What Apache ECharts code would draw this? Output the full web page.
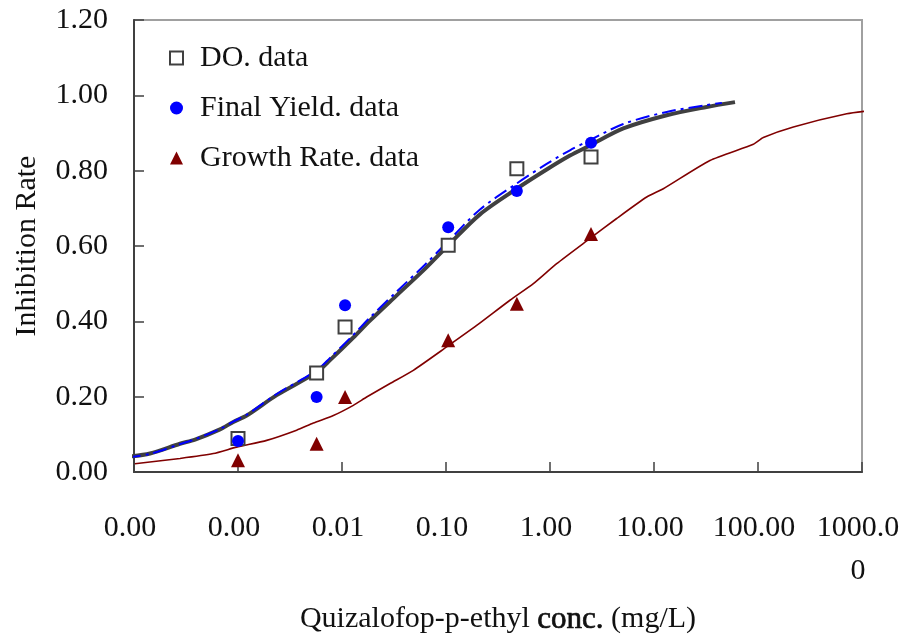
<!DOCTYPE html>
<html>
<head>
<meta charset="utf-8">
<script src="https://cdn.jsdelivr.net/npm/echarts@6/dist/echarts.min.js"></script>
<style>html,body{margin:0;padding:0;background:#fff;}#c{width:912px;height:641px;}</style>
</head>
<body>
<div id="c"></div>
<script>
// ---- data ----
var xTickValues = [0.0001, 0.001, 0.01, 0.1, 1, 10, 100, 1000];
var xTickLabels = ['0.00', '0.00', '0.01', '0.10', '1.00', '10.00', '100.00', '1000.0\n0'];
var yTickLabels = ['0.00', '0.20', '0.40', '0.60', '0.80', '1.00', '1.20'];

var dataConc = [0.001, 0.0057, 0.0107, 0.105, 0.48, 2.48];
var doData = [0.089, 0.263, 0.385, 0.602, 0.805, 0.836];
var fyData = [0.082, 0.199, 0.443, 0.650, 0.746, 0.874];
var grData = [0.031, 0.075, 0.199, 0.350, 0.447, 0.632];

var doFitX = [8.51e-5, 1.426e-4, 2.767e-4, 3.864e-4, 6.714e-4, 9.02e-4, 1.213e-3, 2.355e-3, 5.715e-3, 7.674e-3, 0.01285, 0.01858, 0.03357, 0.0631, 0.1052, 0.2123, 0.4786, 0.929, 1.556, 2.427, 5.07, 13.24, 32.06, 60.1];
var doFitY = [0.040, 0.049, 0.075, 0.086, 0.113, 0.133, 0.150, 0.204, 0.265, 0.297, 0.357, 0.402, 0.469, 0.540, 0.602, 0.684, 0.752, 0.803, 0.840, 0.867, 0.912, 0.947, 0.969, 0.982];

var fyFitX = [8.51e-5, 1.426e-4, 2.767e-4, 3.864e-4, 6.714e-4, 9.02e-4, 1.213e-3, 2.355e-3, 5.715e-3, 7.674e-3, 0.01285, 0.01858, 0.03357, 0.0631, 0.1052, 0.2123, 0.4786, 0.929, 1.556, 2.427, 5.07, 13.24, 32.06, 45.0];
var fyFitY = [0.038, 0.048, 0.074, 0.087, 0.114, 0.134, 0.152, 0.207, 0.270, 0.303, 0.364, 0.410, 0.479, 0.551, 0.613, 0.697, 0.766, 0.818, 0.854, 0.881, 0.924, 0.956, 0.974, 0.980];

var grFitX = [1.02e-4, 2.77e-4, 5.79e-4, 9.7e-4, 1.888e-3, 3.664e-3, 5.30e-3, 8.26e-3, 0.01285, 0.01726, 0.02897, 0.04853, 0.1014, 0.1972, 0.412, 0.692, 1.159, 2.427, 4.375, 8.51, 12.3, 34.5, 90.2, 112.5, 218.8, 712.9, 1268];
var grFitY = [0.022, 0.036, 0.049, 0.066, 0.084, 0.111, 0.130, 0.150, 0.177, 0.199, 0.235, 0.270, 0.332, 0.389, 0.456, 0.500, 0.553, 0.620, 0.673, 0.730, 0.752, 0.827, 0.870, 0.888, 0.916, 0.951, 0.960];

function pairs(xs, ys) { return xs.map(function (x, i) { return [x, ys[i]]; }); }

var FONT = "'Liberation Serif', 'Times New Roman', serif";
var TXT = '#111';

var chart = echarts.init(document.getElementById('c'), null, { renderer: 'canvas' });
chart.setOption({
  animation: false,
  backgroundColor: '#fff',
  grid: { left: 134, top: 20, width: 728, height: 452, show: true, borderColor: '#a0a0a0', borderWidth: 2, backgroundColor: 'transparent' },
  legend: {
    orient: 'vertical', left: 169, top: 37, padding: 0,
    itemWidth: 13, itemHeight: 13, itemGap: 8,
    data: ['DO. data', 'Final Yield. data', 'Growth Rate. data'],
    textStyle: { fontFamily: FONT, fontSize: 30, color: TXT, lineHeight: 30, padding: [12, 0, 0, 12] }
  },
  xAxis: {
    type: 'log', logBase: 10, min: 0.0001, max: 1000, splitNumber: 7,
    name: '{a|Quizalofop-p-ethyl }{b|conc.}{a| (mg/L)}',
    nameLocation: 'middle', nameGap: 132,
    nameTextStyle: {
      rich: {
        a: { fontFamily: FONT, fontSize: 30, color: TXT },
        b: { fontFamily: FONT, fontSize: 31, color: TXT, textBorderColor: TXT, textBorderWidth: 0.7 }
      }
    },
    axisLine: { show: true, lineStyle: { color: '#404040', width: 2 } },
    axisTick: { show: true, inside: true, length: 10, lineStyle: { color: '#404040', width: 1.5 } },
    splitLine: { show: false },
    minorTick: { show: false },
    axisLabel: {
      interval: 0, margin: 35, fontFamily: FONT, fontSize: 30, color: TXT, lineHeight: 43,
      padding: [0, 8, 0, 0],
      formatter: function (v) {
        var i = Math.round(Math.log(v) / Math.LN10) + 4;
        return xTickLabels[i] !== undefined ? xTickLabels[i] : '';
      }
    }
  },
  yAxis: {
    type: 'value', min: 0, max: 1.2, interval: 0.2,
    name: 'Inhibition Rate', nameLocation: 'middle', nameGap: 92,
    nameTextStyle: { fontFamily: FONT, fontSize: 30, color: TXT },
    axisLine: { show: true, lineStyle: { color: '#404040', width: 2 } },
    axisTick: { show: true, inside: true, length: 10, lineStyle: { color: '#404040', width: 1.5 } },
    splitLine: { show: false },
    axisLabel: {
      margin: 26, fontFamily: FONT, fontSize: 30, color: TXT,
      formatter: function (v) { var i = Math.round(v / 0.2); return yTickLabels[i]; }
    }
  },
  series: [
    { name: 'DO. fit', type: 'line', data: pairs(doFitX, doFitY), showSymbol: false, symbol: 'none', clip: false, smooth: 0.3,
      lineStyle: { color: '#404040', width: 4 }, z: 2 },
    { name: 'Final Yield. fit', type: 'line', data: pairs(fyFitX, fyFitY), showSymbol: false, symbol: 'none', clip: false, smooth: 0.3,
      lineStyle: { color: '#0000ff', width: 2, type: [14, 5, 3, 5] }, z: 3 },
    { name: 'Growth Rate. fit', type: 'line', data: pairs(grFitX, grFitY), showSymbol: false, symbol: 'none', clip: false, smooth: 0.2,
      lineStyle: { color: '#800000', width: 1.6 }, z: 2 },
    { name: 'DO. data', type: 'scatter', data: pairs(dataConc, doData), symbol: 'rect', symbolSize: 13,
      itemStyle: { color: '#ffffff', borderColor: '#404040', borderWidth: 2, opacity: 1 }, z: 5 },
    { name: 'Final Yield. data', type: 'scatter', data: pairs(dataConc, fyData), symbol: 'circle', symbolSize: 12,
      itemStyle: { color: '#0000ff', opacity: 1 }, z: 6 },
    { name: 'Growth Rate. data', type: 'scatter', data: pairs(dataConc, grData), symbol: 'triangle', symbolSize: 14,
      itemStyle: { color: '#800000', opacity: 1 }, z: 6 }
  ]
});
</script>
</body>
</html>
